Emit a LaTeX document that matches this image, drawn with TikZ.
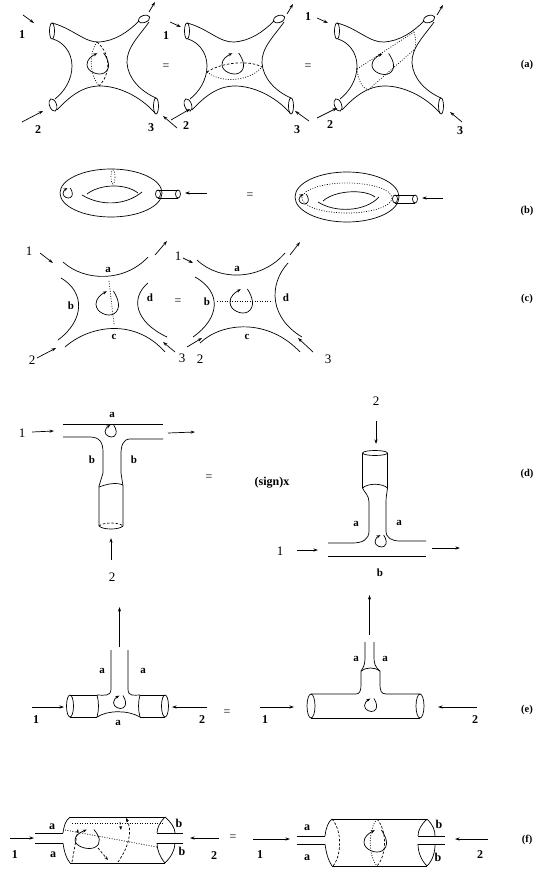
\documentclass[tikz,border=0pt]{standalone}
\usepackage{fontspec}
\setmainfont{Liberation Serif}
\usetikzlibrary{arrows.meta}
\tikzset{
 arr/.style={-{Stealth[length=4.5pt,width=3pt]}},
 sarr/.style={-{Stealth[length=4pt,width=3pt]}},
 dsh/.style={dash pattern=on 2.5pt off 1.8pt},
 dtt/.style={dash pattern=on 0.9pt off 1.6pt},
 bl/.style={inner sep=0pt,font=\fontsize{12}{12}\selectfont\bfseries},
 bs/.style={inner sep=0pt,font=\fontsize{11}{11}\selectfont\bfseries},
 rl/.style={inner sep=0pt,font=\fontsize{13}{13}\selectfont},
 pl/.style={inner sep=0pt,font=\fontsize{10.5}{10.5}\selectfont\bfseries},
 eq/.style={inner sep=0pt,font=\fontsize{12}{12}\selectfont},
 lp/.pic={\draw[sarr] (0.45,-1) .. controls (0.9,-0.3) and (1.1,0.5) .. (0.5,0.9) .. controls (0,1.2) and (-1,0.8) .. (-1,0.1) .. controls (-1,-0.4) and (-0.6,-0.7) .. (-0.1,-0.98);},
 xsurf/.pic={
  \draw (52,31) ellipse [x radius=2.5,y radius=8];
  \draw[rotate around={20:(144,19)}] (144,19) ellipse [x radius=6,y radius=3.5];
  \draw (52,23) .. controls (72,28) and (85,43) .. (99,42) .. controls (115,41) and (128,32) .. (139,21);
  \draw (149,22) .. controls (140,35) and (126,48) .. (127,63) .. controls (128,78) and (140,91) .. (156,98);
  \draw (156,106) ellipse [x radius=2.5,y radius=8];
  \draw (155,113) .. controls (140,96) and (118,86) .. (100,86) .. controls (83,86) and (70,96) .. (57,110);
  \draw[rotate around={20:(53,105)}] (53,105) ellipse [x radius=3.5,y radius=6.5];
  \draw (53,39) .. controls (63,42) and (72,52) .. (72,66) .. controls (72,80) and (64,92) .. (55,99);
 }
}
\begin{document}
\begin{tikzpicture}[x=1pt,y=-1pt,line width=0.7pt]
\fill[white] (0,0) rectangle (536,869);
\useasboundingbox (0,0) rectangle (536,869);

% ================= (a) =================
\pic at (0,0) {xsurf};
\pic at (135,0) {xsurf};
\pic at (285,0) {xsurf};
% fig 1
\pic[xscale=11.5,yscale=10.5] at (98.5,63.5) {lp};
\draw[dsh] (97,42) .. controls (112,55) and (110,75) .. (99,86);
\draw[dtt] (97,42) .. controls (88,55) and (90,75) .. (99,86);
\node[bl] (a1) at (22,35) {1};
\node[bl] (a2) at (38,130) {2};
\node[bl] (a3) at (151,128) {3};
\draw[arr] (23,15) -- (34,23);
\draw[arr] (149,12) -- (155,2);
\draw[arr] (22,122) -- (43,111);
\draw[arr] (177,128) -- (163,116);
\node[eq] (aeq1) at (166,67) {=};
% fig 2
\pic[xscale=11.5,yscale=10.5] at (233.5,63.5) {lp};
\draw[dsh] (207,72) .. controls (222,62) and (250,60) .. (262,67);
\draw[dtt] (207,72) .. controls (222,84) and (250,81) .. (262,67);
\node[bl] (b1) at (166,36) {1};
\node[bl] (b2) at (186,126) {2};
\node[bl] (b3) at (297,130) {3};
\draw[arr] (170,22) -- (181,27);
\draw[arr] (287,14) -- (293,4);
\draw[arr] (171,120) -- (190,109);
\draw[arr] (309,121) -- (295,111);
\node[eq] (aeq2) at (308,67) {=};
% fig 3
\pic[xscale=11.5,yscale=10.5] at (383.5,64) {lp};
\draw[dtt] (357,69) .. controls (358,80) and (362,88) .. (368,90);
\draw[dtt] (357,69) -- (414,32);
\draw[dtt] (368,90) -- (415,49);
\draw[dtt] (414,32) .. controls (416,38) and (416,44) .. (415,49);
\node[bl] (c1) at (308,17) {1};
\node[bl] (c2) at (330,125) {2};
\node[bl] (c3) at (460,131) {3};
\draw[arr] (317,18) -- (328,23);
\draw[arr] (437,15) -- (443,5);
\draw[arr] (317,118) -- (337,108);
\draw[arr] (462,122) -- (450,112);
\node[pl] (la) at (527,65) {(a)};

% ================= (b) =================
\draw (111,193) ellipse [x radius=51,y radius=24];
\draw (87,194) .. controls (100,184) and (125,183) .. (138,193);
\draw (82,195) .. controls (100,206) and (125,206) .. (142,192);
\draw[dtt] (113,177) ellipse [x radius=2,y radius=7];
\pic[scale=5] at (68,193) {lp};
\draw (158,194) ellipse [x radius=2.5,y radius=4];
\draw (158,190) -- (178,190);
\draw (158,198) -- (178,198);
\draw (178,194) ellipse [x radius=2.5,y radius=4];
\draw[arr] (207,193) -- (185,193);
\node[eq] (beq) at (250,196) {=};
\draw (347,197) ellipse [x radius=52,y radius=25];
\draw (323,201) .. controls (335,190) and (365,189) .. (375,197);
\draw (318,202) .. controls (335,213) and (365,212) .. (379,197);
\draw[dtt] (347,198) ellipse [x radius=45,y radius=15];
\pic[scale=5] at (304,199) {lp};
\draw (395,199) ellipse [x radius=2.5,y radius=4];
\draw (395,195) -- (415,195);
\draw (395,203) -- (415,203);
\draw (415,199) ellipse [x radius=2.5,y radius=4];
\draw[arr] (443,198) -- (422,198);
\node[pl] (lb) at (527,211) {(b)};

% ================= (c) =================
% left
\node[rl] (c1l) at (29,251) {1};
\draw[arr] (40,253) -- (53,263);
\draw (63,262) .. controls (85,282) and (125,282) .. (148,257);
\node[bs] (cal) at (108,270) {a};
\draw[arr] (155,255) -- (167,241);
\draw (61,278) .. controls (85,292) and (85,320) .. (58,340);
\node[bs] (cbl) at (71,306) {b};
\draw (148,283) .. controls (130,298) and (135,322) .. (167,337);
\node[bs] (cdl) at (150,298) {d};
\draw (65,347) .. controls (90,325) and (135,318) .. (165,352);
\node[bs] (ccl) at (114,337) {c};
\draw[dtt] (109,281) -- (114,324);
\pic[scale=12] at (108,303) {lp};
\node[rl] (c2l) at (32,360) {2};
\draw[arr] (37,358) -- (56,348);
\node[rl] (c3l) at (182,358) {3};
\draw[arr] (175,352) -- (163,342);
\node[eq] (ceq) at (178,302) {=};
% right
\node[rl] (c1r) at (178,256) {1};
\draw[arr] (183,258) -- (193,263);
\draw (197,260) .. controls (220,282) and (262,280) .. (285,253);
\node[bs] (car) at (237,269) {a};
\draw[arr] (290,255) -- (300,242);
\draw (195,277) .. controls (222,292) and (220,318) .. (193,337);
\node[bs] (cbr) at (207,302) {b};
\draw (288,263) .. controls (268,285) and (270,318) .. (302,337);
\node[bs] (cdr) at (286,298) {d};
\draw (200,343) .. controls (222,322) and (268,318) .. (300,352);
\node[bs] (ccr) at (247,337) {c};
\draw[dtt] (217,301) -- (272,301);
\pic[scale=12] at (242,301) {lp};
\node[rl] (c2r) at (200,359) {2};
\draw[arr] (187,347) -- (202,338);
\node[rl] (c3r) at (328,359) {3};
\draw[arr] (313,352) -- (298,338);
\node[pl] (lc) at (527,299) {(c)};

% ================= (d) =================
% left
\node[rl] (d1l) at (22,433) {1};
\draw[arr] (32,432) -- (54,431);
\node[bs] (dal) at (112,415) {a};
\draw (63,424) -- (163,424);
\draw (63,437) -- (90,437) .. controls (100,437) and (103,443) .. (103,452) -- (103,473) -- (99,486) -- (99,526);
\draw (163,439) -- (130,439) .. controls (123,439) and (121,446) .. (121,454) -- (121,473) -- (123,486) -- (123,526);
\draw (99,487) .. controls (107,484) and (116,482) .. (123,485);
\draw (99,526) .. controls (103,530) and (119,530) .. (123,526);
\draw[dsh] (99,526) .. controls (103,522) and (119,522) .. (123,526);
\pic[scale=6] at (111,431) {lp};
\node[bs] (db1) at (92,460) {b};
\node[bs] (db2) at (134,460) {b};
\draw[arr] (111,560) -- (111,538);
\node[rl] (d2l) at (112,577) {2};
\draw[arr] (168,433) -- (195,432);
\node[eq] (deq) at (209,478) {=};
\node[bl] (dsign) at (272,483) {(sign)x};
% right
\node[rl] (d2r) at (376,401) {2};
\draw[arr] (376,421) -- (376,444);
\draw (375,453) ellipse [x radius=12.5,y radius=2.5];
\draw (362.5,453) -- (362.5,488);
\draw (387.5,453) -- (387.5,488);
\draw (362.5,488) .. controls (368,483) and (382,483) .. (387.5,488);
\draw (362.5,488) .. controls (364,492) and (369,495) .. (369,502) -- (369,531) .. controls (369,540) and (362,543) .. (352,543) -- (328,543);
\draw (387.5,488) .. controls (387,493) and (386,496) .. (386,502) -- (386,531) .. controls (386,538) and (392,541) .. (400,541) -- (426,541);
\draw (328,556) -- (426,556);
\pic[scale=6] at (381,541) {lp};
\node[bs] (da1) at (356,524) {a};
\node[bs] (da2) at (399,523) {a};
\node[bs] (dbr) at (380,573) {b};
\node[rl] (d1r) at (280,551) {1};
\draw[arr] (297,550) -- (318,550);
\draw[arr] (432,548) -- (460,548);
\node[pl] (ld) at (527,474) {(d)};

% ================= (e) =================
% left
\draw (70,706) ellipse [x radius=3.5,y radius=11];
\draw (70,695) -- (97,695);
\draw (70,717) -- (97,717);
\draw (97,695) .. controls (99,702) and (99,710) .. (97,717);
\draw (111,650) -- (111,689) .. controls (111,697) and (104,695) .. (97,695);
\draw (128,650) -- (128,689) .. controls (128,697) and (134,695) .. (140,695);
\draw (140,695) .. controls (138,702) and (138,710) .. (140,717);
\draw (140,695) -- (165,695);
\draw (140,717) -- (165,717);
\draw (165,706) ellipse [x radius=3.5,y radius=11];
\draw (97,717) .. controls (108,710) and (128,710) .. (140,717);
\pic[scale=6.5] at (120,702) {lp};
\draw[arr] (119.5,647) -- (119.5,607);
\node[bs] (ea1) at (102,671) {a};
\node[bs] (ea2) at (143,671) {a};
\node[bs] (ea3) at (118,723) {a};
\draw[arr] (32,707) -- (64,707);
\node[bl] (e1l) at (36,720) {1};
\draw[arr] (207,707) -- (172,707);
\node[bl] (e2l) at (202,720) {2};
\node[eq] (eeq) at (227,713) {=};
% right
\draw (311,706) ellipse [x radius=4,y radius=12];
\draw (311,694) -- (356,694) .. controls (360,694) and (361,690) .. (361,685) -- (361,671);
\draw (420,694) -- (386,694) .. controls (381,694) and (380,690) .. (380,685) -- (380,671);
\draw (361,671) .. controls (366,667) and (375,667) .. (380,671);
\draw (361,671) .. controls (364,667) and (365,663) .. (365,658) -- (365,642);
\draw (380,671) .. controls (375,667) and (374,663) .. (374,658) -- (374,642);
\draw (311,718) -- (420,718);
\draw (420,706) ellipse [x radius=4,y radius=12];
\pic[scale=6.5] at (371,705) {lp};
\draw[arr] (369.5,635) -- (369.5,595);
\node[bs] (ea4) at (356,659) {a};
\node[bs] (ea5) at (385,659) {a};
\draw[arr] (260,707) -- (294,707);
\node[bl] (e1r) at (265,720) {1};
\draw[arr] (477,707) -- (438,707);
\node[bl] (e2r) at (475,720) {2};
\node[pl] (le) at (527,710) {(e)};

% ================= (f) =================
% left
\draw (35,833) -- (63,833);
\draw (35,843) -- (63,843);
\draw (63,833) .. controls (64,825) and (66,820) .. (70,817);
\draw (63,843) .. controls (64,851) and (66,858) .. (70,863);
\draw (70,817) -- (165,817);
\draw (70,863) -- (165,863);
\draw (165,817) .. controls (160,822) and (157,828) .. (157,833);
\draw (165,817) .. controls (171,822) and (175,828) .. (175,833);
\draw (157,833) -- (183,833);
\draw (157,843) .. controls (157,850) and (160,857) .. (165,863);
\draw (175,843) .. controls (175,850) and (171,857) .. (165,863);
\draw (157,843) -- (183,843);
\pic[xscale=13,yscale=9.5] at (88,839) {lp};
\draw[dtt] (72,823) -- (163,823);
\draw[dtt] (65,830) -- (157,847);
\draw[dsh,sarr] (72,862) -- (78,829);
\draw[dsh,sarr] (98,848) -- (108,860);
\draw[dsh,sarr] (118,862) .. controls (130,845) and (132,830) .. (126,818);
\draw[dsh,sarr] (120,822) -- (121,830);
\node[bl] (fa1) at (52,827) {a};
\node[bl] (fa2) at (53,855) {a};
\node[bl] (fb1) at (179,823) {b};
\node[bl] (fb2) at (182,851) {b};
\draw[arr] (10,838) -- (34,838);
\node[bl] (f1l) at (15,855) {1};
\draw[arr] (219,838) -- (190,838);
\node[bl] (f2l) at (214,856) {2};
\node[eq] (feq) at (233,838) {=};
% right
\draw (297,836) -- (325,836);
\draw (297,844) -- (325,844);
\draw (325,836) .. controls (326,828) and (328,822) .. (332,819);
\draw (325,844) .. controls (326,852) and (328,860) .. (332,866);
\draw[dsh] (332,819) .. controls (342,830) and (342,855) .. (333,866);
\draw (332,819) -- (427,819);
\draw (332,866) -- (427,866);
\draw (427,819) .. controls (421,825) and (418,830) .. (418,836);
\draw (427,819) .. controls (433,825) and (435,830) .. (435,836);
\draw (418,836) -- (445,836);
\draw (418,844) .. controls (418,852) and (421,860) .. (427,866);
\draw (435,844) .. controls (435,852) and (433,860) .. (427,866);
\draw (418,844) -- (445,844);
\draw[dtt] (377,819) .. controls (368,830) and (368,855) .. (377,866);
\draw[dsh] (377,819) .. controls (387,830) and (387,855) .. (377,866);
\pic[xscale=12,yscale=11] at (376,841) {lp};
\node[bl] (fa3) at (307,828) {a};
\node[bl] (fa4) at (307,858) {a};
\node[bl] (fb3) at (439,824) {b};
\node[bl] (fb4) at (438,857) {b};
\draw[arr] (253,839) -- (290,839);
\node[bl] (f1r) at (260,855) {1};
\draw[arr] (488,839) -- (455,839);
\node[bl] (f2r) at (480,855) {2};
\node[pl] (lf) at (527,840) {(f)};
\end{tikzpicture}
\end{document}
